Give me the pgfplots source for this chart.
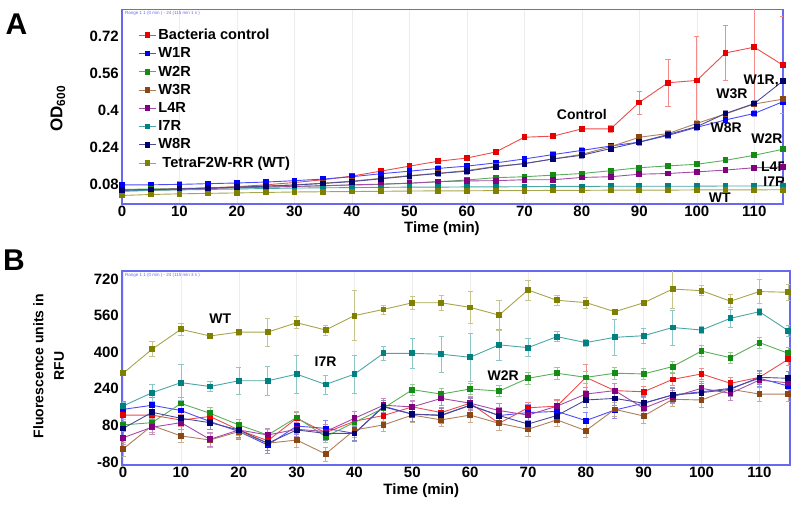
\documentclass[border=0pt]{standalone}
\usepackage{pgfplots}
\pgfplotsset{compat=1.18}
\usepackage{pgfplotstable}
\usepackage{fontspec}
\setmainfont{Liberation Sans}

\definecolor{frameblue}{RGB}{105,105,240}
\definecolor{cCtrl}{RGB}{230,0,0}
\definecolor{cWa}{RGB}{0,0,250}
\definecolor{cWb}{RGB}{20,140,20}
\definecolor{cWc}{RGB}{140,70,20}
\definecolor{cL}{RGB}{128,0,128}
\definecolor{cI}{RGB}{0,128,128}
\definecolor{cWh}{RGB}{0,0,110}
\definecolor{cWT}{RGB}{128,128,0}

% panel A: OD600
\pgfplotstableread{
t   ctrl  ectrl w1    w2    w3    l4    i7    w8    wt
0   0.050 0.008 0.078 0.058 0.056 0.055 0.052 0.055 0.032
5   0.054 0.008 0.078 0.060 0.058 0.057 0.054 0.057 0.036
10  0.058 0.008 0.080 0.062 0.061 0.060 0.056 0.060 0.039
15  0.064 0.008 0.083 0.064 0.065 0.062 0.058 0.064 0.041
20  0.070 0.008 0.086 0.066 0.069 0.065 0.060 0.068 0.043
25  0.078 0.008 0.090 0.068 0.073 0.068 0.062 0.072 0.045
30  0.088 0.008 0.096 0.071 0.078 0.071 0.064 0.077 0.047
35  0.100 0.008 0.103 0.074 0.085 0.074 0.065 0.084 0.048
40  0.116 0.008 0.113 0.077 0.094 0.078 0.066 0.092 0.049
45  0.137 0.008 0.126 0.080 0.106 0.081 0.067 0.104 0.050
50  0.159 0.008 0.137 0.085 0.118 0.085 0.068 0.116 0.051
55  0.180 0.008 0.149 0.091 0.128 0.092 0.068 0.127 0.052
60  0.194 0.008 0.159 0.099 0.140 0.095 0.069 0.137 0.052
65  0.220 0.010 0.173 0.109 0.158 0.096 0.069 0.156 0.053
70  0.284 0.008 0.190 0.113 0.170 0.100 0.070 0.170 0.053
75  0.289 0.008 0.209 0.120 0.190 0.100 0.071 0.190 0.054
80  0.320 0.010 0.227 0.127 0.210 0.110 0.071 0.206 0.054
85  0.320 0.015 0.246 0.139 0.243 0.113 0.072 0.235 0.055
90  0.435 0.050 0.263 0.152 0.284 0.124 0.072 0.263 0.055
95  0.520 0.100 0.292 0.160 0.300 0.127 0.072 0.296 0.055
100 0.530 0.190 0.327 0.167 0.344 0.134 0.072 0.330 0.056
105 0.649 0.120 0.359 0.184 0.385 0.142 0.073 0.387 0.056
110 0.674 0.280 0.387 0.206 0.428 0.152 0.073 0.430 0.056
115 0.596 0.210 0.438 0.232 0.449 0.155 0.074 0.528 0.057
}\odtable

% panel B: fluorescence (RFU)
\pgfplotstableread{
t   ctrl ectrl w1  w2  w3  l4  i7  ei7 w8  wt  ewt
0   125  20   150  82  -23 26  165 15  67  308 10
5   125  25   168  92  79  72  223 36  137 413 33
10  103  25   145  176 34  92  267 78  111 500 27
15  119  20   97   133 16  19  250 22  92  471 10
20  60   25   53   82  53  60  275 60  60  488 12
25  13   30   -6   38  2   38  275 62  2   488 62
30  111  25   77   115 16  63  304 84  60  529 26
35  48   25   67   31  -45 53  259 42  45  497 22
40  98   20   45   93  60  111 304 84  45  560 110
45  123  25   164  155 82  168 395 29  161 587 20
50  161  25   129  236 125 161 395 66  129 616 28
55  136  25   123  217 104 198 391 77  125 616 33
60  177  25   168  239 125 177 378 105 168 596 70
65  89   30   123  230 89  145 432 66  123 562 65
70  157  25   136  286 63  125 420 40  86  672 44
75  164  25   141  308 104 164 468 22  123 627 22
80  290  55   101  290 57  217 442 15  191 617 23
85  232  30   147  308 150 232 465 77  198 577 10
90  227  25   177  305 121 155 472 31  177 616 10
95  281  25   213  337 194 205 508 77  213 676 84
100 305  25   227  405 191 242 497 15  223 669 22
105 264  25   242  376 238 220 548 40  238 623 28
110 290  25   286  442 217 278 577 15  290 665 52
115 369  25   252  395 217 266 494 25  286 662 36
}\rfutable

\pgfplotsset{
  ser/.style={draw=#1!70!white, line width=0.9pt, mark=square*, mark size=2.4pt,
    mark options={draw=#1, fill=#1, solid},
    error bars/y dir=both,
    error bars/error bar style={draw=#1!45!white, line width=0.6pt},
    error bars/error mark options={draw=#1!45!white, rotate=90, mark size=2.6pt, line width=0.6pt}},
  panel/.style={scale only axis, anchor=south west,
    axis line style={draw=frameblue, line width=1.5pt},
    major tick length=0pt,
    xmajorgrids, grid style={draw=gray!15, line width=0.4pt},
    xtick={0,10,...,110},
    tick label style={font=\fontsize{15}{17}\selectfont\bfseries},
    xticklabel style={inner sep=1.5pt},
    yticklabel style={inner sep=3pt},
    /pgf/number format/assume math mode=true,
    label style={font=\fontsize{15}{18}\selectfont\bfseries},
    clip=true},
}
\tikzset{lab/.style={font=\fontsize{14}{16}\selectfont\bfseries, inner sep=0pt}}

\begin{document}
\begin{tikzpicture}
\useasboundingbox (0,0) rectangle (800pt,508pt);
\node[font=\fontsize{30}{30}\selectfont\bfseries] at (16.5pt,484pt) {A};
\node[font=\fontsize{30}{30}\selectfont\bfseries] at (14pt,248pt) {B};

\begin{axis}[panel, at={(122pt,304pt)}, width=661pt, height=194.7pt,
  xmin=0, xmax=115, ymin=-0.005, ymax=0.838,
  ytick={0.08,0.24,0.4,0.56,0.72},
  yticklabels={0.08,0.24,0.4,0.56,0.72},
  xlabel={Time (min)},
  xlabel style={at={(axis description cs:0.484,-0.128)}, anchor=center},
  ylabel={OD\textsubscript{600}},
  ylabel style={at={(axis description cs:-0.097,0.49)}, anchor=center, font=\fontsize{17}{19}\selectfont\bfseries},
  legend style={at={(rel axis cs:0.02,0.92)}, anchor=north west, draw=none, fill=none,
    font=\fontsize{14.6}{16}\selectfont\bfseries, row sep=2.6pt,
    /tikz/every even column/.append style={column sep=6pt}},
  legend cell align=left,
]
\addplot[ser=cCtrl, error bars/y explicit] table[x=t, y=ctrl, y error=ectrl] {\odtable};
\addplot[ser=cWa, error bars/y fixed=0.012] table[x=t, y=w1] {\odtable};
\addplot[ser=cWb, error bars/y fixed=0.010] table[x=t, y=w2] {\odtable};
\addplot[ser=cWc, error bars/y fixed=0.012] table[x=t, y=w3] {\odtable};
\addplot[ser=cL, error bars/y fixed=0.006] table[x=t, y=l4] {\odtable};
\addplot[ser=cI, error bars/y fixed=0.006] table[x=t, y=i7] {\odtable};
\addplot[ser=cWh, error bars/y fixed=0.012] table[x=t, y=w8] {\odtable};
\addplot[ser=cWT, error bars/y fixed=0.006] table[x=t, y=wt] {\odtable};
\legend{Bacteria control, W1R, W2R, W3R, L4R, I7R, W8R, {\ TetraF2W-RR (WT)}}
\node[anchor=north west, inner sep=1pt, font=\fontsize{4.5}{5}\selectfont, text=frameblue]
  at (rel axis cs:0.003,0.995) {Range 1 1 (0 min ) - 24 (115 min 1 s )};
\node[lab] at (axis cs:80,0.384) {Control};
\node[lab] at (axis cs:111.2,0.527) {W1R,};
\node[lab] at (axis cs:106.1,0.471) {W3R};
\node[lab] at (axis cs:105.1,0.326) {W8R};
\node[lab] at (axis cs:112.2,0.276) {W2R};
\node[lab] at (axis cs:113.5,0.158) {L4R};
\node[lab] at (axis cs:113.5,0.090) {I7R};
\node[lab] at (axis cs:104,0.022) {WT};
\end{axis}

\begin{axis}[panel, at={(122pt,43pt)}, width=668pt, height=194pt,
  xmin=-0.2, xmax=115.3, ymin=-93.2, ymax=755,
  ytick={-80,80,240,400,560,720},
  yticklabels={-80,80,240,400,560,720},
  xlabel={Time (min)},
  xlabel style={at={(axis description cs:0.448,-0.134)}, anchor=center},
  ylabel={Fluorescence units in\\RFU},
  ylabel style={at={(axis description cs:-0.11,0.51)}, anchor=center, align=center,
    font=\fontsize{14}{20.5}\selectfont\bfseries},
]
\addplot[ser=cCtrl, error bars/y explicit] table[x=t, y=ctrl, y error=ectrl] {\rfutable};
\addplot[ser=cWa, error bars/y fixed=35] table[x=t, y=w1] {\rfutable};
\addplot[ser=cWb, error bars/y fixed=25] table[x=t, y=w2] {\rfutable};
\addplot[ser=cWc, error bars/y fixed=30] table[x=t, y=w3] {\rfutable};
\addplot[ser=cL, error bars/y fixed=30] table[x=t, y=l4] {\rfutable};
\addplot[ser=cI, error bars/y explicit] table[x=t, y=i7, y error=ei7] {\rfutable};
\addplot[ser=cWh, error bars/y fixed=30] table[x=t, y=w8] {\rfutable};
\addplot[ser=cWT, error bars/y explicit] table[x=t, y=wt, y error=ewt] {\rfutable};
\node[anchor=north west, inner sep=1pt, font=\fontsize{4.5}{5}\selectfont, text=frameblue]
  at (rel axis cs:0.003,0.995) {Range 1 1 (0 min ) - 24 (115 min 3 s )};
\node[lab] at (axis cs:16.8,545) {WT};
\node[lab] at (axis cs:35,358) {I7R};
\node[lab] at (axis cs:65.7,297) {W2R};
\end{axis}
\end{tikzpicture}
\end{document}
